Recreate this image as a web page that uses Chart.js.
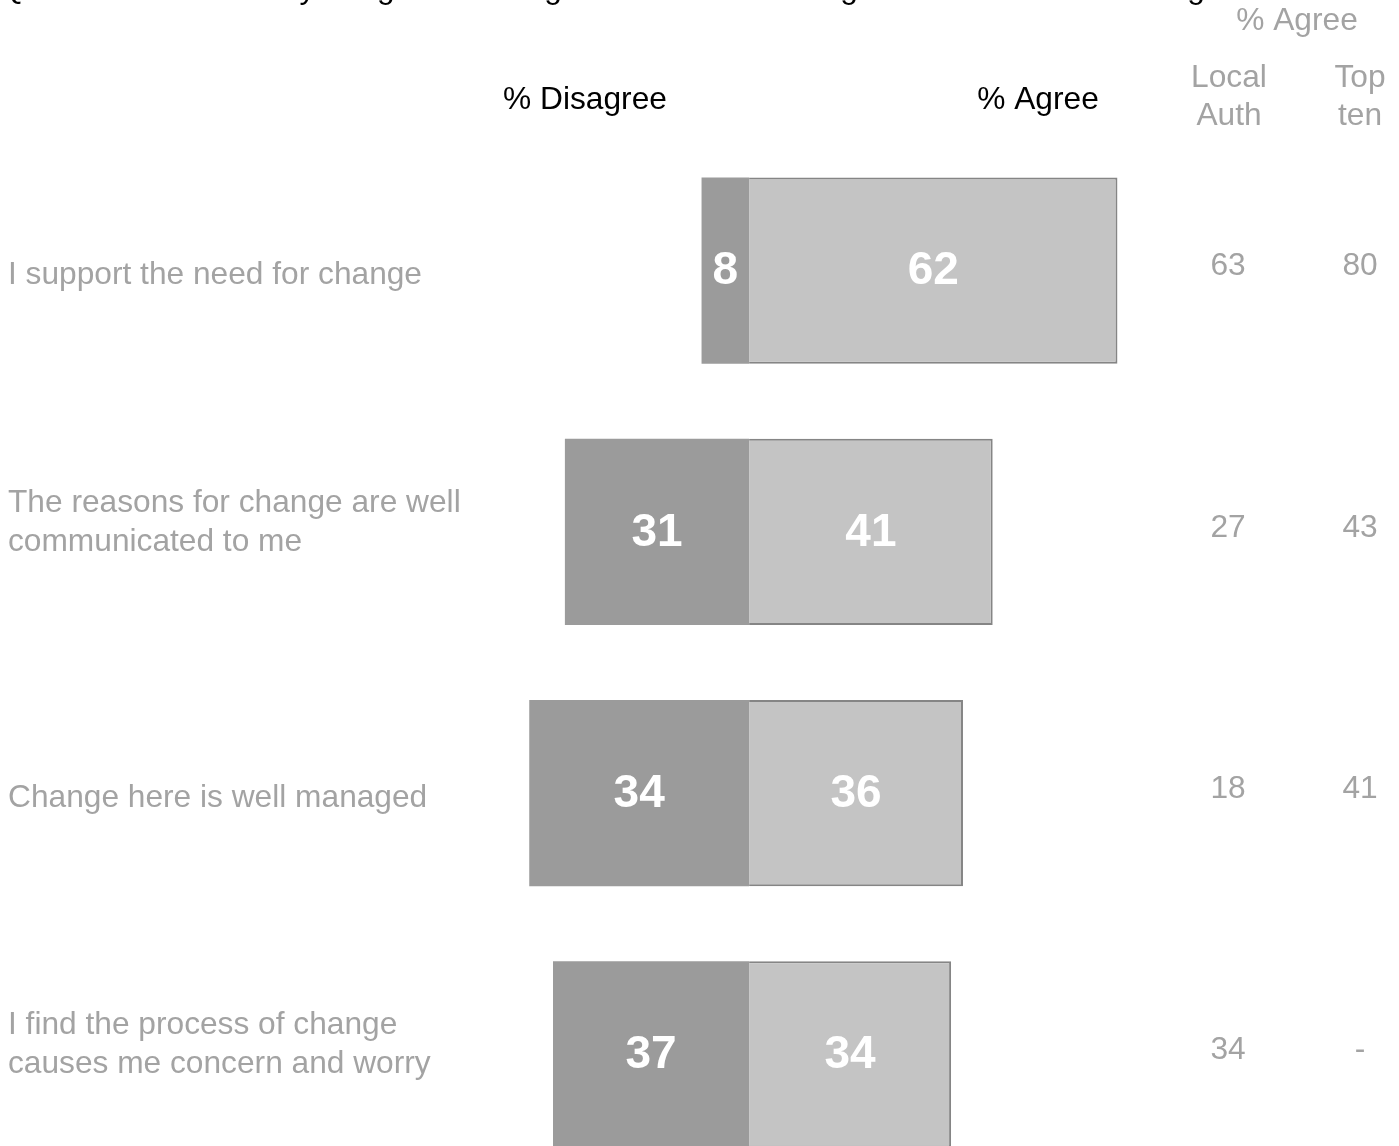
<!DOCTYPE html>
<html>
<head>
<meta charset="utf-8">
<script src="https://cdn.jsdelivr.net/npm/chart.js@4.4.0/dist/chart.umd.min.js"></script>
<style>
  html, body { margin: 0; padding: 0; background: #fff; overflow: hidden; }
  #wrap { position: relative; width: 1399px; height: 1200px; }
</style>
</head>
<body>
<div id="wrap"><canvas id="changeChart"></canvas></div>
<script>
// Dữ liệu
const categories = [
    ['I support the need for change'],
    ['The reasons for change are well', 'communicated to me'],
    ['Change here is well managed'],
    ['I find the process of change', 'causes me concern and worry']
];
const disagree = [8, 31, 37, 33];          // độ dài thanh
const disagreeLabels = [8, 31, 34, 37];    // số in trên thanh
const agree = [62, 41, 36, 34];
const localAuth = ['63', '27', '18', '34'];
const topTen = ['80', '43', '41', '-'];
const titleText = 'Q. To what extent do you agree or disagree with the following statements about change?';

const FONT = '"Liberation Sans", Arial, sans-serif';
const GREY_TEXT = '#a3a3a3';

// Vẽ chữ: tiêu đề, nhãn hàng, cột bên phải, số trên thanh
const textPlugin = {
    id: 'textPlugin',
    afterDatasetsDraw(chart) {
        const ctx = chart.ctx;
        const y = chart.scales.y;
        ctx.save();

        // tiêu đề bị cắt ở mép trên
        ctx.font = '31.7px ' + FONT;
        ctx.fillStyle = '#000';
        ctx.textAlign = 'left';
        ctx.textBaseline = 'alphabetic';
        ctx.fillText(titleText, 0, -2);

        ctx.textBaseline = 'middle';
        ctx.textAlign = 'center';
        ctx.fillText('% Disagree', 585, 100);
        ctx.fillText('% Agree', 1038, 100);

        ctx.fillStyle = GREY_TEXT;
        ctx.fillText('% Agree', 1297, 21);
        ctx.fillText('Local', 1229, 78);
        ctx.fillText('Auth', 1229, 116);
        ctx.fillText('Top', 1360, 78);
        ctx.fillText('ten', 1360, 116);

        categories.forEach((lines, i) => {
            const cy = y.getPixelForValue(i);
            ctx.textAlign = 'left';
            ctx.fillStyle = GREY_TEXT;
            if (lines.length === 1) {
                ctx.fillText(lines[0], 8, cy + 5);
            } else {
                ctx.fillText(lines[0], 8, cy - 29);
                ctx.fillText(lines[1], 8, cy + 10);
            }
            ctx.textAlign = 'center';
            ctx.fillText(localAuth[i], 1228, cy - 4);
            ctx.fillText(topTen[i], 1360, cy - 4);
        });

        // số trên thanh
        ctx.font = 'bold 46px ' + FONT;
        ctx.fillStyle = '#fff';
        ctx.textAlign = 'center';
        chart.data.datasets.forEach((ds, di) => {
            const meta = chart.getDatasetMeta(di);
            meta.data.forEach((bar, i) => {
                const txt = di === 0 ? disagreeLabels[i] : agree[i];
                ctx.fillText(String(txt), (bar.x + bar.base) / 2, bar.y + 1);
            });
        });
        ctx.restore();
    }
};

new Chart(document.getElementById('changeChart'), {
    type: 'bar',
    data: {
        labels: categories.map(c => c.join(' ')),
        datasets: [{
            label: '% Disagree',
            data: disagree.map(v => -v),
            backgroundColor: '#9b9b9b',
            borderWidth: 0,
            barPercentage: 0.712,
            categoryPercentage: 1
        }, {
            label: '% Agree',
            data: agree,
            backgroundColor: '#c4c4c4',
            borderColor: '#858585',
            borderWidth: 2,
            barPercentage: 0.712,
            categoryPercentage: 1
        }]
    },
    options: {
        indexAxis: 'y',
        responsive: true,
        maintainAspectRatio: false,
        animation: false,
        layout: { padding: { left: 452, right: 234, top: 140, bottom: 15 } },
        plugins: {
            legend: { display: false },
            tooltip: { enabled: false }
        },
        scales: {
            x: { stacked: true, min: -50, max: 70, display: false },
            y: { stacked: true, display: false }
        }
    },
    plugins: [textPlugin]
});
</script>
</body>
</html>
